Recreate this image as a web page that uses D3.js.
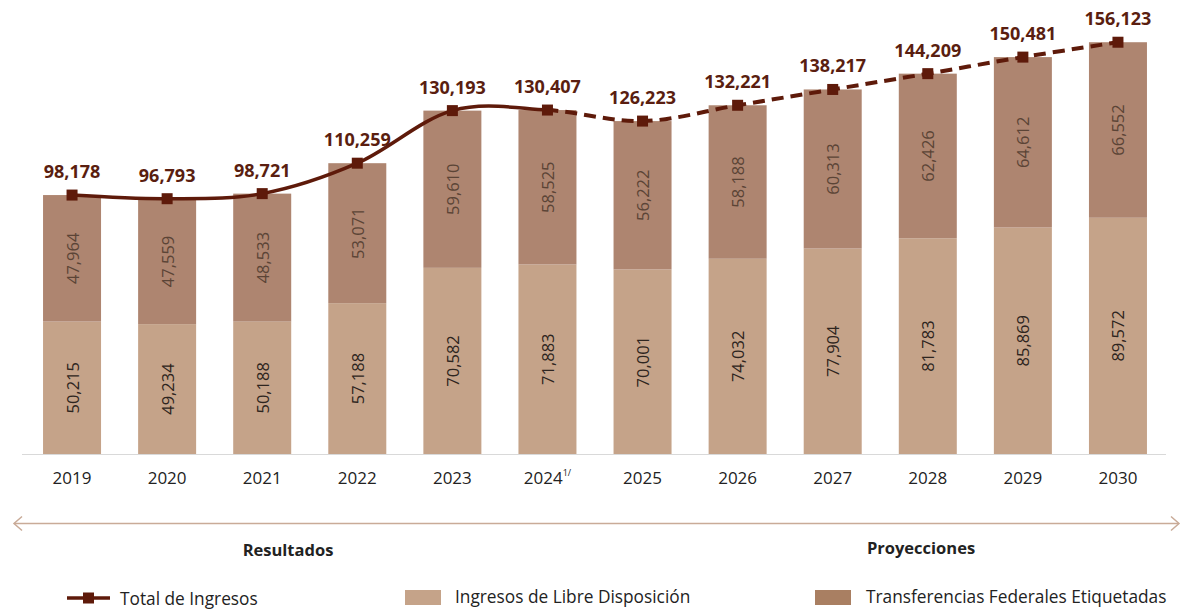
<!DOCTYPE html>
<html>
<head>
<meta charset="utf-8">
<script src="https://cdn.jsdelivr.net/npm/d3@7"></script>
<style>
  html, body { margin: 0; padding: 0; background: #fff; }
  svg { display: block; font-family: "Open Sans", "Noto Sans", sans-serif; }
</style>
</head>
<body>
<svg id="chart" width="1184" height="609"></svg>
<script>
const years = ["2019","2020","2021","2022","2023","2024","2025","2026","2027","2028","2029","2030"];
const yearSup = ["","","","","","1/","","","","","",""];
const libre = [50215,49234,50188,57188,70582,71883,70001,74032,77904,81783,85869,89572];
const etiquetadas = [47964,47559,48533,53071,59610,58525,56222,58188,60313,62426,64612,66552];
const totales = [98178,96793,98721,110259,130193,130407,126223,132221,138217,144209,150481,156123];
const lastActual = "2024";
const periodLabels = ["Resultados","Proyecciones"];
const legendLabels = ["Total de Ingresos","Ingresos de Libre Disposición","Transferencias Federales Etiquetadas"];

const colLibre = "#c5a389";
const colEtiq = "#ae8570";
const colLine = "#5e1a0a";

const svg = d3.select("#chart");
const fmt = d3.format(",");

const x = d3.scaleBand().domain(years).range([24.5, 1165.5]).paddingInner(0.39).paddingOuter(0.195);
const y = d3.scaleLinear().domain([0, 160000]).range([454, 32]);

// baseline
svg.append("line").attr("x1", 22).attr("x2", 1166).attr("y1", 454.5).attr("y2", 454.5)
  .attr("stroke", "#d9d9d9").attr("stroke-width", 1);

const stackData = years.map((yr, i) => ({year: yr, libre: libre[i], etiq: etiquetadas[i]}));
const series = d3.stack().keys(["libre", "etiq"])(stackData);
const colors = {libre: colLibre, etiq: colEtiq};

series.forEach(s => {
  svg.append("g").selectAll("rect").data(s).join("rect")
    .attr("x", d => x(d.data.year))
    .attr("width", x.bandwidth())
    .attr("y", d => y(d[1]))
    .attr("height", d => y(d[0]) - y(d[1]))
    .attr("fill", colors[s.key]);
  svg.append("g").selectAll("text").data(s).join("text")
    .attr("transform", d => `translate(${x(d.data.year) + x.bandwidth()/2},${(y(d[0]) + y(d[1]))/2}) rotate(-90)`)
    .attr("text-anchor", "middle")
    .attr("dominant-baseline", "central")
    .attr("font-size", 16.5)
    .attr("fill", s.key === "libre" ? "#2e2520" : "#5b4436")
    .text(d => fmt(d.data[s.key]));
});

// x axis labels
const xl = svg.append("g").selectAll("text").data(years).join("text")
  .attr("x", d => x(d) + x.bandwidth()/2)
  .attr("y", 483.5)
  .attr("text-anchor", "middle")
  .attr("font-size", 17)
  .attr("fill", "#222");
xl.append("tspan").text(d => d);
xl.append("tspan").attr("font-size", 9).attr("dy", -8).text((d, i) => yearSup[i]);

// total line
const pts = years.map((yr, i) => [x(yr) + x.bandwidth()/2, y(totales[i])]);
const lineGen = d3.line().curve(d3.curveCardinal.tension(0));
const splitX = x(lastActual) + x.bandwidth()/2;
const defs = svg.append("defs");
defs.append("clipPath").attr("id", "clipA").append("rect")
  .attr("x", 0).attr("y", 0).attr("width", splitX).attr("height", 609);
defs.append("clipPath").attr("id", "clipB").append("rect")
  .attr("x", splitX).attr("y", 0).attr("width", 1184 - splitX).attr("height", 609);
svg.append("path").attr("d", lineGen(pts)).attr("fill", "none")
  .attr("stroke", colLine).attr("stroke-width", 3.5).attr("clip-path", "url(#clipA)");
svg.append("path").attr("d", lineGen(pts)).attr("fill", "none")
  .attr("stroke", colLine).attr("stroke-width", 4).attr("stroke-dasharray", "12,7")
  .attr("clip-path", "url(#clipB)");

svg.append("g").selectAll("rect").data(pts).join("rect")
  .attr("x", d => d[0] - 5.5).attr("y", d => d[1] - 5.5)
  .attr("width", 11).attr("height", 11).attr("fill", colLine);

svg.append("g").selectAll("text").data(totales).join("text")
  .attr("x", (d, i) => pts[i][0])
  .attr("y", (d, i) => pts[i][1] - 17)
  .attr("text-anchor", "middle")
  .attr("font-size", 18)
  .attr("font-weight", "bold")
  .attr("fill", "#5a1e10")
  .text(d => fmt(d));

// period arrow
const arrowCol = "#c9ab98";
const ay = 523.5;
svg.append("line").attr("x1", 14).attr("x2", 1179).attr("y1", ay).attr("y2", ay)
  .attr("stroke", arrowCol).attr("stroke-width", 1.5);
svg.append("path").attr("d", `M22,${ay-7} L14,${ay} L22,${ay+7}`).attr("fill", "none")
  .attr("stroke", arrowCol).attr("stroke-width", 1.5);
svg.append("path").attr("d", `M1171,${ay-7} L1179,${ay} L1171,${ay+7}`).attr("fill", "none")
  .attr("stroke", arrowCol).attr("stroke-width", 1.5);

svg.append("text").attr("x", 288).attr("y", 556).attr("text-anchor", "middle")
  .attr("font-size", 16.5).attr("font-weight", "bold").attr("fill", "#222").text(periodLabels[0]);
svg.append("text").attr("x", 921).attr("y", 554).attr("text-anchor", "middle")
  .attr("font-size", 16.5).attr("font-weight", "bold").attr("fill", "#222").text(periodLabels[1]);

// legend
const lg = svg.append("g");
lg.append("line").attr("x1", 67).attr("x2", 110).attr("y1", 598).attr("y2", 598)
  .attr("stroke", colLine).attr("stroke-width", 3.5);
lg.append("rect").attr("x", 83).attr("y", 592.5).attr("width", 11).attr("height", 11).attr("fill", colLine);
lg.append("text").attr("x", 120).attr("y", 605).attr("font-size", 17.3).attr("fill", "#222").text(legendLabels[0]);
lg.append("rect").attr("x", 405).attr("y", 590).attr("width", 36).attr("height", 15).attr("fill", colLibre);
lg.append("text").attr("x", 455).attr("y", 603).attr("font-size", 17.3).attr("fill", "#222").text(legendLabels[1]);
lg.append("rect").attr("x", 815).attr("y", 590).attr("width", 36).attr("height", 15).attr("fill", "#a97f62");
lg.append("text").attr("x", 866).attr("y", 603).attr("font-size", 17.3).attr("fill", "#222").text(legendLabels[2]);
</script>
</body>
</html>
